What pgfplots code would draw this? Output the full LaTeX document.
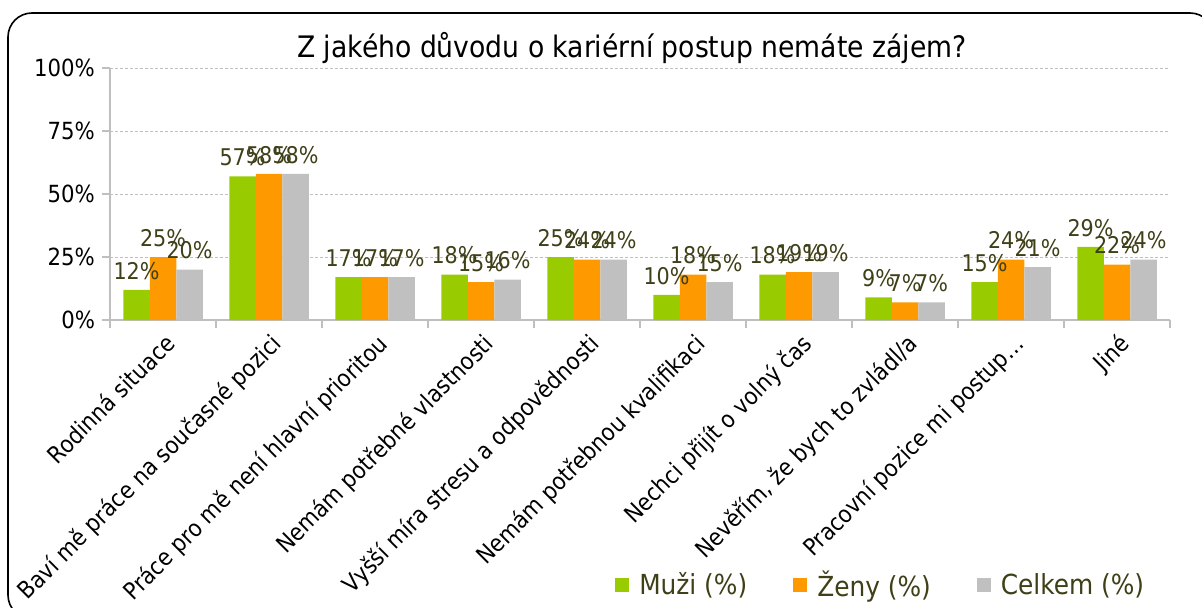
\documentclass[border=0pt]{standalone}
\usepackage{pgfplots}
\pgfplotsset{compat=1.18}
\usepackage{fontspec}
\setmainfont{DejaVu Sans Condensed}
\definecolor{cMuzi}{HTML}{99CC00}
\definecolor{cZeny}{HTML}{FF9900}
\definecolor{cCelk}{HTML}{C0C0C0}
\definecolor{lbl}{HTML}{3F3F18}
\definecolor{axgray}{HTML}{BFBFBF}
\begin{document}
\begin{tikzpicture}
\path[use as bounding box] (0,0) rectangle (601pt,303.5pt);
\draw[black, line width=0.8pt, rounded corners=12pt] (4pt,-6pt) rectangle (607pt,297pt);
\node[font=\fontsize{14.8}{17}\selectfont, anchor=center] at (316pt,279.5pt) {Z jakého důvodu o kariérní postup nemáte zájem?};
\begin{axis}[
  at={(55pt,143.5pt)}, anchor=south west,
  scale only axis, width=530pt, height=126pt,
  ybar=0pt, bar width=0.25,
  xmin=-0.5, xmax=9.5, ymin=0, ymax=100,
  axis x line*=bottom, axis y line*=left,
  axis line style={axgray, line width=1pt, -},
  xtick={0,...,9},
  xticklabels={Rodinná situace, Baví mě práce na současné pozici, Práce pro mě není hlavní prioritou, Nemám potřebné vlastnosti, Vyšší míra stresu a odpovědnosti, Nemám potřebnou kvalifikaci, Nechci přijít o volný čas, {Nevěřím, že bych to zvládl/a}, Pracovní pozice mi postup…, Jiné},
  major x tick style={draw=none},
  minor xtick={-0.5,0.5,...,9.5},
  minor x tick style={axgray, line width=1pt},
  minor tick length=4pt,
  tick align=outside,
  ytick={0,25,50,75,100},
  yticklabels={0\%,25\%,50\%,75\%,100\%},
  major y tick style={axgray, line width=1pt},
  major tick length=4pt,
  ymajorgrids, grid style={gray!50, dash pattern=on 1.5pt off 1pt, line width=0.4pt},
  xticklabel style={font=\fontsize{11.8}{14}\selectfont, rotate=45, anchor=north east, inner sep=1pt, yshift=-0.5pt},
  yticklabel style={font=\fontsize{11.8}{13}\selectfont, black},
  nodes near coords={\pgfmathprintnumber{\pgfplotspointmeta}\%},
  every node near coord/.append style={font=\fontsize{11.5}{13}\selectfont, text=lbl, inner sep=1.5pt, yshift=3.5pt},
  /pgf/number format/assume math mode=true,
  legend columns=3,
  legend style={draw=none, fill=none, at={(0.728,-1.052)}, anchor=center, font=\fontsize{13.8}{15}\selectfont, text=lbl,
    /tikz/every even column/.append style={column sep=21pt}},
  legend image code/.code={\fill[#1] (0pt,-3.5pt) rectangle (7pt,3.5pt);},
]
\addplot[fill=cMuzi, draw=none] coordinates {(0,12) (1,57) (2,17) (3,18) (4,25) (5,10) (6,18) (7,9) (8,15) (9,29)};
\addplot[fill=cZeny, draw=none] coordinates {(0,25) (1,58) (2,17) (3,15) (4,24) (5,18) (6,19) (7,7) (8,24) (9,22)};
\addplot[fill=cCelk, draw=none] coordinates {(0,20) (1,58) (2,17) (3,16) (4,24) (5,15) (6,19) (7,7) (8,21) (9,24)};
\legend{\hspace{3pt}Muži (\%), \hspace{3pt}Ženy (\%), \hspace{3pt}Celkem (\%)}
\end{axis}
\end{tikzpicture}
\end{document}
